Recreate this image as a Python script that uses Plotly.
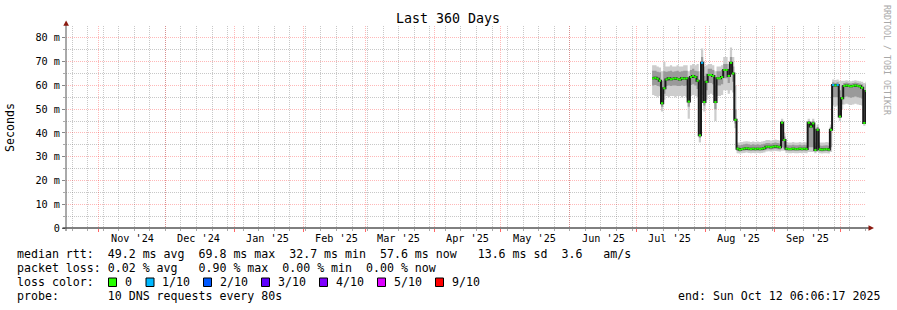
import plotly.graph_objects as go
import pandas as pd

# ---------------- data ----------------
x_start = "2024-10-17 06:06:17"
x_end = "2025-10-12 06:06:17"
first_day = "2025-07-08"

month_starts = ["2024-11-01", "2024-12-01", "2025-01-01", "2025-02-01", "2025-03-01", "2025-04-01",
                "2025-05-01", "2025-06-01", "2025-07-01", "2025-08-01", "2025-09-01", "2025-10-01"]
label_pos = ["2024-11-16", "2024-12-16", "2025-01-16", "2025-02-16", "2025-03-16", "2025-04-16",
             "2025-05-16", "2025-06-16", "2025-07-16", "2025-08-16", "2025-09-16"]
month_labels = ["Nov '24", "Dec '24", "Jan '25", "Feb '25", "Mar '25", "Apr '25",
                "May '25", "Jun '25", "Jul '25", "Aug '25", "Sep '25"]
first_week = "2024-10-20"

y_ticks = [0, 10, 20, 30, 40, 50, 60, 70, 80]
y_labels = ["0", "10 m", "20 m", "30 m", "40 m", "50 m", "60 m", "70 m", "80 m"]
y_minor = [5, 15, 25, 35, 45, 55, 65, 75]

# daily median rtt (ms), Jul 8 .. Oct 12 2025
med_jul = [63.0, 63.2, 62.8, 62.0, 52.5, 58.8, 62.5, 63.0, 62.6, 62.8, 63.0, 62.7, 62.5, 63.0, 62.8, 63.0,
           53.2, 63.5, 64.0, 63.5, 62.0, 39.0, 69.5, 53.0]
med_aug = [61.5, 64.4, 64.4, 64.0, 53.0, 63.0, 63.0, 63.5, 66.5, 66.5, 64.0, 69.5, 65.0, 45.5, 33.4, 33.0,
           33.2, 33.4, 33.6, 33.4, 33.2, 33.4, 33.2, 33.4, 33.2, 33.4, 33.6, 34.2, 34.2, 34.0, 34.2]
med_sep = [34.4, 34.2, 34.0, 44.3, 37.0, 33.4, 33.2, 33.2, 33.4, 33.2, 33.2, 33.4, 33.2, 33.4, 33.2, 44.3,
           42.7, 44.0, 32.8, 41.3, 33.1, 33.0, 33.1, 33.2, 33.0, 41.3, 60.2, 60.0, 60.2, 46.9]
med_oct = [54.6, 59.8, 60.0, 59.8, 59.6, 59.8, 60.0, 59.8, 59.6, 59.0, 44.2, 57.6]

# outer smoke (lightest) low / high
olo_jul = [56.0, 55.5, 55.0, 55.5, 49.0, 54.0, 55.5, 55.0, 55.5, 55.5, 55.0, 55.5, 55.5, 55.0, 55.5, 55.0,
           46.0, 55.5, 56.0, 55.5, 55.0, 36.0, 56.0, 49.0]
ohi_jul = [68.5, 68.5, 68.0, 67.5, 66.0, 70.0, 68.0, 68.0, 68.5, 68.0, 68.0, 68.5, 68.0, 68.0, 68.5, 68.5,
           66.0, 68.5, 69.0, 68.5, 69.0, 66.0, 75.5, 68.0]
olo_aug = [54.0, 56.0, 56.5, 56.0, 45.0, 55.5, 55.5, 56.0, 58.0, 58.0, 56.5, 58.0, 57.0, 42.0, 31.5, 31.3,
           31.5, 31.6, 31.8, 31.6, 31.5, 31.6, 31.5, 31.6, 31.5, 31.6, 31.8, 32.2, 32.3, 32.2, 32.3]
ohi_aug = [68.5, 69.0, 69.0, 68.5, 66.0, 68.0, 68.0, 68.5, 72.0, 72.0, 69.0, 76.0, 72.0, 60.0, 36.0, 36.0,
           36.2, 36.4, 36.5, 36.4, 36.2, 36.4, 36.2, 36.4, 36.2, 36.4, 36.6, 37.0, 37.0, 36.8, 37.0]
olo_sep = [32.4, 32.3, 32.2, 32.5, 32.5, 31.6, 31.5, 31.5, 31.6, 31.5, 31.5, 31.6, 31.5, 31.6, 31.5, 32.0,
           32.0, 32.0, 31.5, 32.0, 31.5, 31.4, 31.5, 31.5, 31.4, 32.0, 51.5, 51.0, 51.5, 45.0]
ohi_sep = [37.2, 37.0, 36.8, 46.0, 40.0, 36.2, 36.0, 36.0, 36.2, 36.0, 36.0, 36.2, 36.0, 36.2, 36.0, 46.0,
           45.0, 46.0, 36.0, 43.5, 36.0, 36.0, 36.0, 36.2, 36.0, 43.5, 62.5, 62.3, 62.5, 62.0]
olo_oct = [50.0, 52.0, 52.3, 52.0, 51.8, 52.0, 52.3, 52.0, 51.8, 51.5, 43.0, 52.0]
ohi_oct = [62.0, 62.0, 62.2, 62.0, 61.8, 62.0, 62.2, 62.0, 61.8, 61.5, 61.0, 61.5]

# inner smoke (darker) low / high
ilo_jul = [60.0, 60.2, 59.8, 59.5, 51.0, 56.5, 59.8, 60.0, 59.8, 60.0, 60.0, 59.8, 59.8, 60.0, 59.8, 60.0,
           51.0, 60.2, 60.5, 60.0, 58.5, 38.0, 62.0, 51.5]
ihi_jul = [66.2, 66.2, 65.8, 65.5, 62.0, 66.0, 65.8, 66.0, 66.2, 65.8, 66.0, 66.2, 65.8, 66.0, 66.2, 66.2,
           63.0, 66.5, 67.0, 66.2, 66.0, 62.0, 72.0, 64.0]
ilo_aug = [58.0, 61.0, 61.0, 60.5, 50.0, 60.0, 60.0, 60.5, 63.0, 63.0, 61.0, 65.0, 61.5, 44.0, 32.4, 32.2,
           32.4, 32.5, 32.7, 32.5, 32.4, 32.5, 32.4, 32.5, 32.4, 32.5, 32.7, 33.1, 33.1, 33.0, 33.1]
ihi_aug = [65.0, 67.0, 67.0, 66.5, 60.0, 66.0, 66.0, 66.5, 69.0, 69.0, 67.0, 72.0, 68.0, 50.0, 35.0, 34.8,
           35.0, 35.2, 35.4, 35.2, 35.0, 35.2, 35.0, 35.2, 35.0, 35.2, 35.4, 35.8, 35.8, 35.6, 35.8]
ilo_sep = [33.3, 33.1, 33.0, 34.0, 33.5, 32.5, 32.4, 32.4, 32.5, 32.4, 32.4, 32.5, 32.4, 32.5, 32.4, 34.0,
           34.0, 34.0, 32.2, 34.0, 32.3, 32.2, 32.3, 32.4, 32.2, 34.0, 55.0, 55.0, 55.0, 47.0]
ihi_sep = [36.0, 35.8, 35.6, 45.0, 38.5, 35.0, 34.8, 34.8, 35.0, 34.8, 34.8, 35.0, 34.8, 35.0, 34.8, 45.0,
           44.0, 45.0, 34.5, 42.5, 34.7, 34.6, 34.7, 34.8, 34.6, 42.5, 61.3, 61.0, 61.3, 58.0]
ilo_oct = [52.0, 55.0, 55.3, 55.0, 54.8, 55.0, 55.3, 55.0, 54.8, 54.5, 44.0, 55.0]
ihi_oct = [60.0, 61.0, 61.2, 61.0, 60.8, 61.0, 61.2, 61.0, 60.8, 60.5, 58.0, 60.5]

loss_1_days = ["2025-07-30", "2025-09-27", "2025-09-29"]

loss_names = ["0", "1/10", "2/10", "3/10", "4/10", "5/10", "9/10"]
loss_colors = ["#26ff00", "#00b8ff", "#0059ff", "#5e00ff", "#7e00ff", "#dd00ff", "#ff0000"]

stats_rtt = ["49.2 ms avg", "69.8 ms max", "32.7 ms min", "57.6 ms now", "13.6 ms sd", "3.6", "am/s"]
stats_loss = ["0.02 % avg", "0.90 % max", "0.00 % min", "0.00 % now"]
probe_text = "10 DNS requests every 80s"
end_text = "end: Sun Oct 12 06:06:17 2025"

# ---------------- assemble ----------------
median = med_jul + med_aug + med_sep + med_oct
o_lo = olo_jul + olo_aug + olo_sep + olo_oct
o_hi = ohi_jul + ohi_aug + ohi_sep + ohi_oct
i_lo = ilo_jul + ilo_aug + ilo_sep + ilo_oct
i_hi = ihi_jul + ihi_aug + ihi_sep + ihi_oct

days = list(pd.date_range(first_day, periods=len(median), freq="D"))
xs = days + [pd.Timestamp(x_end)]
week_lines = [d.strftime("%Y-%m-%d") for d in pd.date_range(first_week, x_end, freq="7D")]

def ext(a):
    return a + [a[-1]]

W, H = 897, 310
L, R, T, B = 66, 31, 26, 82
PW = W - L - R
PH = H - T - B
BASE = H - B  # 228

def px(x):
    return (x - L) / PW

def py(y):
    return (BASE - y) / PH

MONO = "DejaVu Sans Mono"

fig = go.Figure()

def band(lo, hi, color):
    fig.add_trace(go.Scatter(x=xs, y=ext(lo), mode="lines", line=dict(width=0, shape="hv"),
                             hoverinfo="skip", showlegend=False))
    fig.add_trace(go.Scatter(x=xs, y=ext(hi), mode="lines", line=dict(width=0, shape="hv"),
                             fill="tonexty", fillcolor=color, hoverinfo="skip", showlegend=False))

band(o_lo, o_hi, "#cdcdcd")
band(i_lo, i_hi, "#9a9a9a")

fig.add_trace(go.Scatter(x=xs, y=ext(median), mode="lines", line=dict(color="#1a1a1a", width=2, shape="hv"),
                         hoverinfo="skip", showlegend=False))

loss_set = set(pd.Timestamp(d) for d in loss_1_days)
for want_loss, col in [(False, loss_colors[0]), (True, loss_colors[1])]:
    sx, sy = [], []
    for i, d in enumerate(days):
        if (d in loss_set) == want_loss:
            sx += [d, xs[i + 1], None]
            sy += [median[i], median[i], None]
    fig.add_trace(go.Scatter(x=sx, y=sy, mode="lines", line=dict(color=col, width=2),
                             hoverinfo="skip", showlegend=False))

RED_GRID = "rgba(255,0,0,0.28)"
GRAY_GRID = "rgba(110,110,110,0.38)"

fig.update_layout(
    width=W, height=H, autosize=False,
    margin=dict(l=L, r=R, t=T, b=B, pad=0),
    paper_bgcolor="white", plot_bgcolor="white",
    font=dict(family=MONO, color="black", size=10),
    xaxis=dict(type="date", range=[x_start, x_end], showline=False, zeroline=False,
               tickmode="array", tickvals=month_starts, ticktext=[""] * len(month_starts),
               ticks="outside", ticklen=3, tickcolor="rgba(255,0,0,0.6)", tickwidth=1,
               showgrid=True, gridcolor=RED_GRID, griddash="1px,1px", gridwidth=1,
               minor=dict(tickmode="array", tickvals=week_lines, showgrid=True,
                          gridcolor=GRAY_GRID, griddash="1px,1px", gridwidth=1,
                          ticks="outside", ticklen=2, tickcolor="#aaaaaa"),
               fixedrange=True),
    yaxis=dict(range=[0, 85], showline=False, zeroline=False,
               tickmode="array", tickvals=y_ticks, ticktext=y_labels,
               ticks="outside", ticklen=3, tickcolor="#888888",
               tickfont=dict(family=MONO, size=10.2, color="black"),
               showgrid=True, gridcolor=RED_GRID, griddash="1px,1px", gridwidth=1,
               minor=dict(tickmode="array", tickvals=y_minor, showgrid=True, gridcolor=GRAY_GRID,
                          griddash="1px,1px", gridwidth=1,
                          ticks="outside", ticklen=2, tickcolor="#aaaaaa"),
               fixedrange=True),
)

shapes = []
# axes
shapes.append(dict(type="line", xref="paper", yref="paper", x0=px(62.5), x1=px(869), y0=py(228), y1=py(228),
                   line=dict(color="black", width=1)))
shapes.append(dict(type="line", xref="paper", yref="paper", x0=px(66), x1=px(66), y0=py(231), y1=py(24),
                   line=dict(color="#555555", width=1)))
# arrows
shapes.append(dict(type="path", xref="paper", yref="paper",
                   path="M {a},{b} L {c},{d} L {e},{f} Z".format(a=px(63.3), b=py(25.8), c=px(69.0), d=py(25.8),
                                                                e=px(66.1), f=py(20.5)),
                   fillcolor="#8b1a10", line=dict(width=0)))
shapes.append(dict(type="path", xref="paper", yref="paper",
                   path="M {a},{b} L {c},{d} L {e},{f} Z".format(a=px(868.5), b=py(225.2), c=px(868.5), d=py(230.8),
                                                                e=px(874), f=py(228)),
                   fillcolor="#8b1a10", line=dict(width=0)))
# loss color boxes
box_x = [108.5, 146, 203.5, 261.5, 319.5, 377.5, 435.5]
for bx, col in zip(box_x, loss_colors):
    shapes.append(dict(type="rect", xref="paper", yref="paper", x0=px(bx), x1=px(bx + 8),
                       y0=py(286.5), y1=py(278), fillcolor=col, line=dict(color="black", width=1)))
fig.update_layout(shapes=shapes)

ann = []
for lp, lt in zip(label_pos, month_labels):
    ann.append(dict(x=lp, xref="x", y=py(238), yref="paper", text=lt, showarrow=False,
                    xanchor="center", yanchor="middle", font=dict(family=MONO, size=10.2, color="black")))

ann.append(dict(x=px(448), y=py(19), xref="paper", yref="paper", text="Last 360 Days", showarrow=False,
                xanchor="center", yanchor="middle", font=dict(family=MONO, size=13.3, color="black")))
ann.append(dict(x=px(10), y=py(127), xref="paper", yref="paper", text="Seconds", showarrow=False,
                textangle=-90, xanchor="center", yanchor="middle", font=dict(family=MONO, size=11.6, color="black")))
ann.append(dict(x=px(887), y=py(60), xref="paper", yref="paper", text="RRDTOOL / TOBI OETIKER", showarrow=False,
                textangle=90, xanchor="center", yanchor="middle", font=dict(family=MONO, size=8.3, color="#a8a8a8")))

def cols(parts):
    s = ""
    for c, t in parts:
        s += " " * max(1, c - len(s)) + t if s else " " * c + t
    return s.replace(" ", "\u00a0")

line1 = cols([(0, "median rtt:"), (13, stats_rtt[0]), (26, stats_rtt[1]), (39, stats_rtt[2]),
              (52, stats_rtt[3]), (66, stats_rtt[4]), (78, stats_rtt[5]), (84, stats_rtt[6])])
line2 = cols([(0, "packet loss:"), (13, stats_loss[0]), (26, stats_loss[1]), (38, stats_loss[2]),
              (50, stats_loss[3])])
line4 = cols([(0, "probe:"), (13, probe_text)])

LF = 11.6
for txt, yy in [(line1, 254), (line2, 268), ("loss\u00a0color:", 282), (line4, 296)]:
    ann.append(dict(x=px(15), y=py(yy), xref="paper", yref="paper", text=txt, showarrow=False,
                    xanchor="left", yanchor="middle", font=dict(family=MONO, size=LF, color="black")))
lbl_x = [123, 159.5, 217.5, 276, 333.5, 392, 449.5]
for lx, nm in zip(lbl_x, loss_names):
    ann.append(dict(x=px(lx), y=py(282), xref="paper", yref="paper", text=nm, showarrow=False,
                    xanchor="left", yanchor="middle", font=dict(family=MONO, size=LF, color="black")))
ann.append(dict(x=px(882), y=py(296), xref="paper", yref="paper", text=end_text.replace(" ", "\u00a0"),
                showarrow=False, xanchor="right", yanchor="middle", font=dict(family=MONO, size=LF, color="black")))

fig.update_layout(annotations=ann)

fig.write_html("out.html")
